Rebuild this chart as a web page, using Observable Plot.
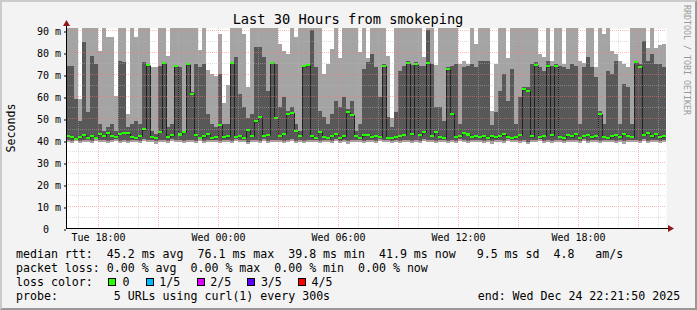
<!DOCTYPE html>
<html>
<head>
<meta charset="utf-8">
<script src="https://cdn.jsdelivr.net/npm/d3@7"></script>
<script src="https://cdn.jsdelivr.net/npm/@observablehq/plot@0.6"></script>
<style>
html, body { margin: 0; padding: 0; background: #f3f3f3; }
#wrap { position: relative; width: 697px; height: 310px; overflow: hidden; background: #f3f3f3; }
#wrap svg { display: block; }
#border { position: absolute; left: 0; top: 0; width: 697px; height: 310px; box-sizing: border-box;
  border-left: 2px solid #cbcbcb; border-top: 2px solid #cbcbcb;
  border-right: 2px solid #999; border-bottom: 2px solid #999; pointer-events: none; }
</style>
</head>
<body>
<div id="wrap"><div id="border"></div></div>
<script>
// ---- time axis (hours since Tue 00:00) ----
const startHour = 16.4;      // start of the 30-hour window
const stepHours = 0.2;       // one column = 12 minutes
const tickHours = [18, 24, 30, 36, 42];
const tickLabels = ["Tue 18:00", "Wed 00:00", "Wed 06:00", "Wed 12:00", "Wed 18:00"];
const yTicks = [0, 10, 20, 30, 40, 50, 60, 70, 80, 90];
const yTop = 90.91;

// ---- smoke: outer band (ping1..ping5), ms ----
const hi = [95,95,95,58.6,95,95,95,95,80.6,95,
 86.7,86.7,60,95,95,52,95,86.7,95,95,
 95,73,73,95,95,78,95,95,95,95,
 95,95,95,81,95,72,70,69,88,57,
 65,95,95,95,88,64,95,95,95,95,
 95,95,95,83.6,80.6,79,95,86.7,95,95,
 95,95,95,95,70,74.5,81.4,95,77.5,95,
 95,95,95,80,95,77.5,95,95,95,95,
 78,50,95,95,95,95,95,95,95,77.6,
 95,95,74,95,95,95,95,95,74.5,76,
 74.5,95,83.6,95,95,95,53,74.5,95,95,
 77.5,95,95,95,95,95,95,95,79,77.6,
 95,76,95,95,74.5,95,95,95,76,75,
 95,95,73,95,88,95,80.6,79,76,74.5,
 73,95,95,95,95,82,95,82,83,83.6];
const lo = [39.1,38.8,39.4,38.6,39.0,39.3,38.7,39.5,38.9,39.2,
 38.5,39.0,39.4,38.8,39.1,38.6,39.3,39.0,38.7,39.4,
 39.1,38.9,38.4,39.2,39.0,38.7,39.5,38.9,39.1,38.6,
 39.3,39.0,38.8,39.4,38.5,39.1,38.9,39.3,38.7,39.0,
 39.2,38.6,39.4,38.9,39.1,38.3,39.0,39.2,38.8,39.5,
 38.7,39.1,38.9,39.3,38.6,39.0,39.4,38.8,39.1,38.5,
 39.2,38.9,39.0,38.6,39.3,39.1,38.8,39.4,38.7,39.0,
 38.4,39.2,38.9,39.1,38.6,39.3,39.0,38.8,39.5,38.9,
 39.1,38.7,39.2,38.5,39.0,39.3,38.8,39.1,38.6,39.4,
 38.9,39.2,38.7,39.0,39.3,38.5,39.1,38.8,39.4,39.0,
 38.6,39.2,38.9,39.1,38.7,39.3,38.4,39.0,39.2,38.8,
 39.5,38.9,39.1,38.6,39.0,38.3,39.2,38.9,39.4,38.7,
 39.1,38.8,39.3,39.0,38.6,39.2,38.9,39.1,38.5,39.4,
 38.8,39.0,39.3,38.7,39.1,38.9,39.2,38.6,39.0,38.4,
 39.3,38.9,39.1,38.8,39.4,38.7,39.0,39.2,38.6,39.1];

// ---- smoke: inner band (ping2..ping4), ms ----
const dhi = [73.8,73.8,58.6,48.8,84.4,52.6,78.3,74.5,47.3,44.2,
 45.8,47.3,44.2,76.1,75.3,46,47.3,48.8,47.3,75.3,
 74.5,44.2,42.7,73.8,75.3,46,47.3,74,73,44.2,
 74.5,62,74.5,73,74.5,51.8,47.3,45.8,70,47.3,
 47.3,75.3,77.6,60.9,54.8,50,51.8,82.1,82.1,77.6,
 62.4,75.3,74.5,54.8,59.4,53,54.8,47.3,44.2,73.8,
 74.5,90,73,53.3,50.3,47.3,51.8,57.9,54.8,59.4,
 54,57.9,44.2,47.3,72.3,75.3,79.1,73,59.4,74.5,
 50.3,46,52.6,71.5,73.8,75.8,74,75.3,73.8,73.8,
 90,74.5,54.8,54.8,48.8,73,73.8,74.5,47.3,73,
 73.8,74.5,73,76.1,76.1,76.1,47,52.6,62.4,70,
 57.9,72.3,47.3,59.4,64,64,74.5,75.3,73,71.5,
 76.1,73.8,74.5,73.8,73,72.3,74.5,73.8,47.3,73,
 77.6,73,68.5,53,47.3,71.5,70,76.1,47.3,65.5,
 63.9,47.3,76.1,74.5,85,76.1,79.1,74.5,74.5,73];
const dlo = [40.0,39.7,40.3,39.5,39.9,40.2,39.6,40.4,39.8,40.1,
 39.5,39.9,40.3,39.7,40.0,39.6,40.2,39.9,39.6,40.3,
 40.0,39.8,39.4,40.1,39.9,39.6,40.4,39.8,40.0,39.5,
 40.2,39.9,39.7,40.3,39.5,40.0,39.8,40.2,39.6,39.9,
 40.1,39.5,40.3,39.8,40.0,39.3,39.9,40.1,39.7,40.4,
 39.6,40.0,39.8,40.2,39.5,39.9,40.3,39.7,40.0,39.4,
 40.1,39.8,39.9,39.5,40.2,40.0,39.7,40.3,39.6,39.9,
 39.4,40.1,39.8,40.0,39.5,40.2,39.9,39.7,40.4,39.8,
 40.0,39.6,40.1,39.5,39.9,40.2,39.7,40.0,39.5,40.3,
 39.8,40.1,39.6,39.9,40.2,39.4,40.0,39.7,40.3,39.9,
 39.5,40.1,39.8,40.0,39.6,40.2,39.4,39.9,40.1,39.7,
 40.4,39.8,40.0,39.5,39.9,39.3,40.1,39.8,40.3,39.6,
 40.0,39.7,40.2,39.9,39.5,40.1,39.8,40.0,39.5,40.3,
 39.7,39.9,40.2,39.6,40.0,39.8,40.1,39.5,39.9,39.4,
 40.2,39.8,40.0,39.7,40.3,39.6,39.9,40.1,39.5,40.0];

// ---- median rtt, ms (all 0 loss -> green) ----
const med = [42.0,41.2,40.6,41.5,42.3,41.0,41.8,40.9,42.6,41.7,
 43.2,42.0,41.3,42.8,43.4,43.0,41.2,40.8,41.9,44.8,
 74.0,41.2,40.9,43.8,75.0,41.4,42.1,73.6,42.5,43.6,
 74.4,61.0,42.2,41.0,41.6,42.8,40.8,41.5,47.0,41.2,
 41.6,75.2,41.4,42.0,41.1,44.5,41.8,48.5,50.4,41.9,
 42.4,75.0,50.0,41.8,42.9,51.8,52.4,44.0,42.0,73.5,
 74.0,41.6,40.9,43.6,41.4,41.0,41.8,42.9,40.8,41.6,
 52.6,51.4,41.8,41.0,42.1,42.4,41.3,42.0,41.5,73.7,
 41.0,40.9,41.5,42.0,42.4,75.0,42.6,74.5,42.2,43.5,
 75.2,42.0,43.8,41.3,41.0,72.2,51.8,41.4,41.9,43.2,
 42.5,41.4,42.0,41.3,41.7,41.0,41.6,41.2,41.9,42.6,
 41.5,40.9,41.4,42.3,63.0,62.4,41.6,74.0,41.2,42.0,
 73.5,42.1,73.8,41.4,41.0,42.2,41.6,42.8,41.0,41.8,
 42.4,41.2,42.0,51.8,41.5,40.8,41.6,42.3,41.3,42.9,
 42.0,41.4,75.3,73.3,42.4,43.2,41.6,42.8,41.2,41.6];

const smokeOuter = "#a4a4a4", smokeInner = "#585858";
const lossLabels = ["0", "1/5", "2/5", "3/5", "4/5"];
const lossColors = ["#26ff00", "#00b8ff", "#dd00ff", "#5e00ff", "#ff0000"];
const medianHalf = 0.455;

const title = "Last 30 Hours from smokeping";
const yLabel = "Seconds";
const watermark = "RRDTOOL / TOBI OETIKER";
const legendLines = [
  "median rtt:  45.2 ms avg  76.1 ms max  39.8 ms min  41.9 ms now   9.5 ms sd  4.8   am/s",
  "packet loss: 0.00 % avg  0.00 % max  0.00 % min  0.00 % now",
  "loss color:",
  "probe:        5 URLs using curl(1) every 300s"
];
const endText = "end: Wed Dec 24 22:21:50 2025";

// ---- build table ----
const rows = med.map((m, i) => ({
  t0: startHour + i * stepHours, t1: startHour + (i + 1) * stepHours,
  hi: hi[i], lo: lo[i], dhi: dhi[i], dlo: dlo[i], med: m
}));
const endHour = startHour + med.length * stepHours;
const stepPts = rows.map(r => ({t: r.t0, m: r.med})).concat([{t: endHour, m: med[med.length - 1]}]);

const allHours = d3.range(Math.ceil(startHour), Math.floor(endHour) + 1);
const minorX = allHours.filter(h => h % 3 !== 0);
const majorX = allHours.filter(h => h % 3 === 0);
const minorY = [5, 15, 25, 35, 45, 55, 65, 75, 85];
const majorY = [10, 20, 30, 40, 50, 60, 70, 80, 90];

const gridMinor = {stroke: "#b8b8b8", strokeOpacity: 0.45, strokeDasharray: "1,1"};
const gridMajor = {stroke: "#ff7070", strokeOpacity: 0.5, strokeDasharray: "1,1"};

const plot = Plot.plot({
  width: 697, height: 310,
  marginLeft: 66, marginRight: 31, marginTop: 28, marginBottom: 82,
  style: {background: "#f3f3f3", fontFamily: "'DejaVu Sans Mono', monospace", fontSize: "10px", color: "#000", overflow: "visible"},
  x: {type: "linear", domain: [startHour, endHour], label: null},
  y: {domain: [0, yTop], label: null},
  marks: [
    Plot.frame({fill: "white", stroke: "none"}),
    Plot.rect(rows, {x1: "t0", x2: "t1", y1: "lo", y2: "hi", fill: smokeOuter, clip: true, shapeRendering: "crispEdges"}),
    Plot.rect(rows, {x1: "t0", x2: "t1", y1: "dlo", y2: "dhi", fill: smokeInner, clip: true, shapeRendering: "crispEdges"}),
    Plot.line(stepPts, {x: "t", y: "m", curve: "step-after", stroke: "#202020", strokeWidth: 1, clip: true}),
    Plot.rect(rows, {x1: "t0", x2: "t1", y1: d => d.med - medianHalf, y2: d => d.med + medianHalf, fill: lossColors[0], clip: true, shapeRendering: "crispEdges"}),
    Plot.ruleX(minorX, gridMinor),
    Plot.ruleY(minorY, gridMinor),
    Plot.ruleX(majorX, gridMajor),
    Plot.ruleY(majorY, gridMajor),
    Plot.ruleX([startHour], {y1: 0, y2: 91.8, stroke: "#000"}),
    Plot.ruleY([0], {x1: startHour, x2: endHour + 0.1, stroke: "#000"}),
    Plot.axisY({ticks: yTicks, tickFormat: d => d === 0 ? "0\u00a0\u00a0" : `${d} m`, tickSize: 2, tickPadding: 3.5, dy: 1.5, fontSize: 10, label: null}),
    Plot.axisX({ticks: tickHours, tickFormat: d => tickLabels[tickHours.indexOf(d)], tickSize: 0, tickPadding: 5, fontSize: 10, label: null})
  ]
});

document.getElementById("wrap").insertBefore(plot, document.getElementById("border"));

// ---- decorations: arrows, title, labels, legend ----
const sx = plot.scale("x"), sy = plot.scale("y");
const svg = d3.select(plot);
const ax = Math.round(sx.apply(startHour)) + 0.5;
const ay = Math.round(sy.apply(0)) + 0.5;
const topY = sy.apply(yTop);
const rightX = sx.apply(endHour);
const arrowColor = "#901818";
svg.append("path").attr("d", `M${ax - 3.5},${topY - 2}L${ax + 3.5},${topY - 2}L${ax},${topY - 8}Z`).attr("fill", arrowColor);
svg.append("path").attr("d", `M${rightX + 2},${ay - 3.5}L${rightX + 2},${ay + 3.5}L${rightX + 8},${ay}Z`).attr("fill", arrowColor);

const g = svg.append("g").attr("font-family", "'DejaVu Sans Mono', monospace").attr("fill", "#000").attr("text-anchor", "start");
g.append("text").attr("x", 348).attr("y", 24).attr("text-anchor", "middle").attr("font-size", 13.7).text(title);
g.append("text").attr("transform", "translate(14.5,128) rotate(-90)").attr("text-anchor", "middle").attr("font-size", 11.6).text(yLabel);
g.append("text").attr("transform", "translate(684,5) rotate(90)").attr("text-anchor", "start").attr("font-size", 8.3).attr("fill", "#999").text(watermark);

const lg = g.append("g").attr("font-size", 11.6).attr("text-anchor", "start").style("white-space", "pre");
legendLines.forEach((line, i) => {
  lg.append("text").attr("x", 16).attr("y", 258 + i * 14).text(line);
});
lg.append("text").attr("x", 477.7).attr("y", 300).text(endText);
const boxX = [108.5, 146.5, 197.5, 247.5, 298.5];
const textX = [122.5, 159.2, 210.2, 260.9, 311.5];
lossColors.forEach((c, i) => {
  lg.append("rect").attr("x", boxX[i]).attr("y", 278.5).attr("width", 7).attr("height", 7)
    .attr("fill", c).attr("stroke", "#000").attr("stroke-width", 1);
  lg.append("text").attr("x", textX[i]).attr("y", 286).text(lossLabels[i]);
});
</script>
</body>
</html>
